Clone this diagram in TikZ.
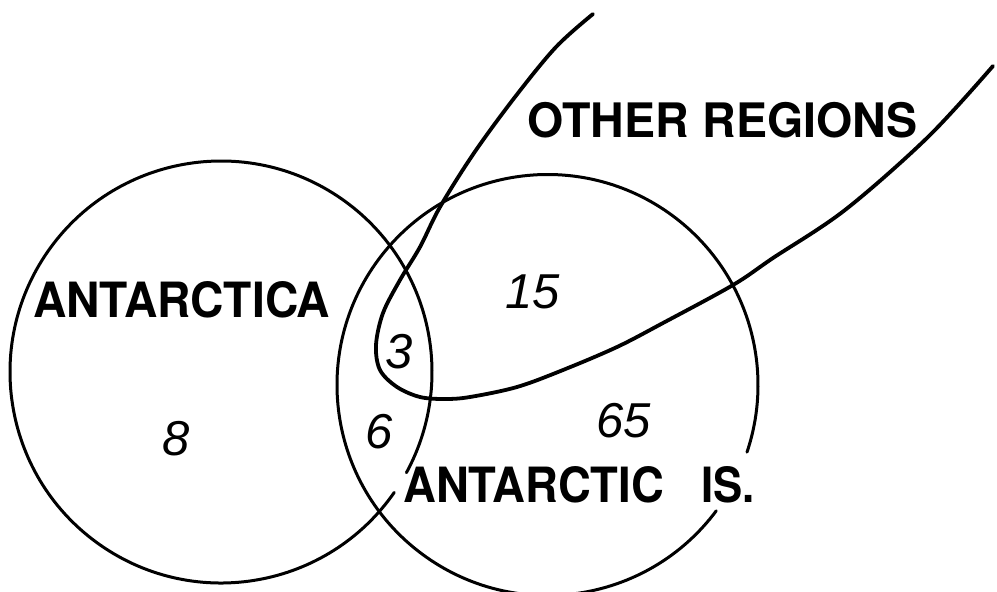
\documentclass[tikz,border=0pt]{standalone}
\usepackage{fontspec}
\setmainfont{TeX Gyre Heros}
\newfontfamily\handfont{Liberation Sans}
\tikzset{
  ring/.style={line width=3pt, line cap=round},
  loopline/.style={line width=3.8pt, line cap=round, line join=round},
  setlabel/.style={anchor=base west, inner sep=0pt, font=\fontsize{48.6}{50}\selectfont\bfseries},
  count/.style={anchor=base, inner sep=0pt, font=\fontsize{49}{50}\selectfont\handfont\itshape},
}
\begin{document}
\begin{tikzpicture}[x=1pt,y=-1pt]
\useasboundingbox (0,0) rectangle (997,592);
\coordinate (cL) at (221,372);
\coordinate (cR) at (547.5,385);
% left circle (Antarctica) with a small gap near the label
\draw[ring] ([shift={(34.8:211)}]cL) arc[start angle=34.8, end angle=388.5, radius=211];
% right circle (Antarctic Is.) with a gap for the label
\draw[ring] ([shift={(36.7:210.5)}]cR) arc[start angle=36.7, end angle=378.6, radius=210.5];
% other regions loop
\draw[loopline] plot[smooth, tension=0.55] coordinates {
 (593,14) (556,47) (515,97) (474,153) (440,207) (420,247) (400,280) (383,313)
 (376,345) (380,370) (397,387) (420,397) (445,399) (470,397) (517,387) (563,370)
 (617,347) (663,323) (733,285) (773,258) (845,210) (928,137) (993,66)};
% labels
\node[setlabel] (lA) at (33,317) {\scalebox{0.95}[1]{ANTARCTICA}};
\node[setlabel, font=\fontsize{47.5}{50}\selectfont\bfseries] (lO) at (527,137) {\scalebox{0.98}[1]{OTHER\hspace{14pt}REGIONS}};
\node[setlabel] (lI) at (403,502) {\scalebox{0.935}[1]{ANTARCTIC}};
\node[setlabel] (lI2) at (701,502) {\scalebox{0.9}[1]{IS.}};
% counts
\node[count] (n8) at (176,455) {8};
\node[count] (n6) at (379,448) {6};
\node[count] (n3) at (399,368) {3};
\node[count] (n15) at (533,308) {15};
\node[count] (n65) at (624,437) {65};
\end{tikzpicture}
\end{document}
